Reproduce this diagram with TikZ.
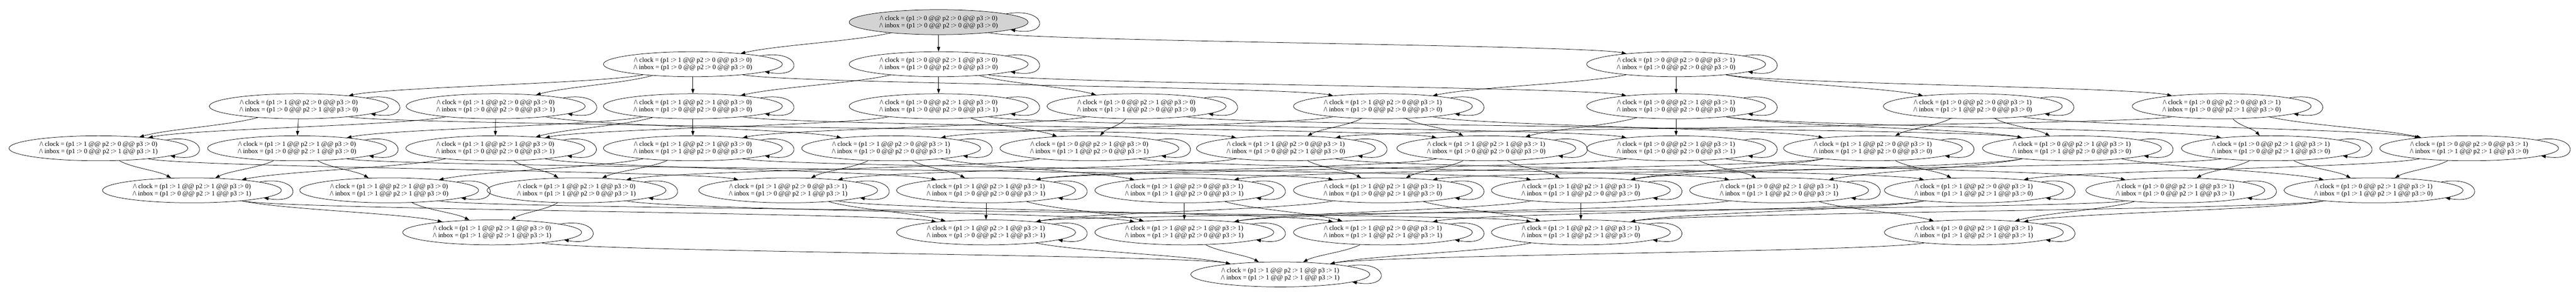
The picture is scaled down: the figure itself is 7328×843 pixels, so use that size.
\documentclass[tikz,border=0pt]{standalone}
\usepackage{fontspec}
\setmainfont{Liberation Serif}
\usetikzlibrary{arrows.meta,calc,shapes.geometric}
\definecolor{gvgray}{HTML}{D3D3D3}
\tikzset{
  st/.style={ellipse,draw=black,line width=1.1pt,minimum width=509pt,minimum height=71pt,inner sep=0pt,
    align=center,font=\fontsize{18.7pt}{20.5pt}\selectfont},
  init/.style={fill=gvgray},
  arr/.style={draw=black,line width=1.1pt,-{Triangle[length=13pt,width=9pt]}}
}
% state node: x, y, clock bits, inbox bits
\newcommand\St[9][]{\node[st,#1] (c#4#5#6m#7#8#9) at (#2,#3)
  {/\textbackslash{} clock = (p1 :> #4 @@ p2 :> #5 @@ p3 :> #6)\\/\textbackslash{} inbox = (p1 :> #7 @@ p2 :> #8 @@ p3 :> #9)};}
\newcommand\E[2]{\draw[arr] let \p1=($(#2)-(#1)$), \n1={max(-260,min(260,0.35*\x1))} in
  (#1) .. controls +(\n1,-55) and +(-\n1,55) .. (#2);}
\newcommand\Lp[1]{\draw[arr] (#1.7) .. controls +(116,20) and +(116,-20) .. (#1.-6);}
\begin{document}
\begin{tikzpicture}[x=1pt,y=1pt]
\useasboundingbox (0,0) rectangle (7328,843);
% row A
\St[init]{2670}{780}000000
% row B
\St{1971}{660.5}100000
\St{2670}{660.5}010000
\St{4768}{660.5}001000
% row C
\St{850}{541}100010
\St{1410}{541}100001
\St{1971}{541}110000
\St{2670}{541}010001
\St{3233}{541}010100
\St{3934}{541}101000
\St{4768}{541}011000
\St{5612}{541}001100
\St{6320}{541}001010
% row D
\St{280}{421.5}100011
\St{845}{421.5}110010
\St{1409}{421.5}110001
\St{1971}{421.5}110100
\St{2535}{421.5}101001
\St{3099}{421.5}010101
\St{3658}{421.5}101010
\St{4228}{421.5}111000
\St{4768}{421.5}011001
\St{5328}{421.5}101100
\St{5894}{421.5}011100
\St{6460}{421.5}011010
\St{7024}{421.5}001110
% row E
\St{546}{302}110011
\St{1107}{302}110110
\St{1640}{302}110101
\St{2242}{302}101011
\St{2805}{302}111001
\St{3369}{302}101101
\St{3934}{302}111010
\St{4497}{302}111100
\St{5061}{302}011101
\St{5615}{302}101110
\St{6188}{302}011011
\St{6752}{302}011110
% row F
\St{1400}{182.5}110111
\St{2805}{182.5}111011
\St{3369}{182.5}111101
\St{3934}{182.5}101111
\St{4497}{182.5}111110
\St{5615}{182.5}011111
% row G
\St{3642}{63}111111
% self loops
\foreach \n in {c000m000,c100m000,c010m000,c001m000,
  c100m010,c100m001,c110m000,c010m001,c010m100,c101m000,c011m000,c001m100,c001m010,
  c100m011,c110m010,c110m001,c110m100,c101m001,c010m101,c101m010,c111m000,c011m001,c101m100,c011m100,c011m010,c001m110,
  c110m011,c110m110,c110m101,c101m011,c111m001,c101m101,c111m010,c111m100,c011m101,c101m110,c011m011,c011m110,
  c110m111,c111m011,c111m101,c101m111,c111m110,c011m111,c111m111}{\Lp{\n}}
% transitions
\foreach \a/\b in {c000m000/c100m000,c000m000/c010m000,c000m000/c001m000,
  c100m000/c110m000,c100m000/c101m000,c100m000/c100m010,c100m000/c100m001,
  c010m000/c110m000,c010m000/c011m000,c010m000/c010m100,c010m000/c010m001,
  c001m000/c101m000,c001m000/c011m000,c001m000/c001m100,c001m000/c001m010,
  c100m010/c110m010,c100m010/c101m010,c100m010/c100m011,
  c100m001/c110m001,c100m001/c101m001,c100m001/c100m011,
  c110m000/c111m000,c110m000/c110m100,c110m000/c110m010,c110m000/c110m001,
  c010m001/c110m001,c010m001/c011m001,c010m001/c010m101,
  c010m100/c110m100,c010m100/c011m100,c010m100/c010m101,
  c101m000/c111m000,c101m000/c101m100,c101m000/c101m010,c101m000/c101m001,
  c011m000/c111m000,c011m000/c011m100,c011m000/c011m010,c011m000/c011m001,
  c001m100/c101m100,c001m100/c011m100,c001m100/c001m110,
  c001m010/c101m010,c001m010/c011m010,c001m010/c001m110,
  c100m011/c110m011,c100m011/c101m011,
  c110m010/c111m010,c110m010/c110m110,c110m010/c110m011,
  c110m001/c111m001,c110m001/c110m101,c110m001/c110m011,
  c110m100/c111m100,c110m100/c110m110,c110m100/c110m101,
  c101m001/c111m001,c101m001/c101m101,c101m001/c101m011,
  c010m101/c110m101,c010m101/c011m101,
  c101m010/c111m010,c101m010/c101m110,c101m010/c101m011,
  c111m000/c111m100,c111m000/c111m010,c111m000/c111m001,
  c011m001/c111m001,c011m001/c011m101,c011m001/c011m011,
  c101m100/c111m100,c101m100/c101m110,c101m100/c101m101,
  c011m100/c111m100,c011m100/c011m110,c011m100/c011m101,
  c011m010/c111m010,c011m010/c011m110,c011m010/c011m011,
  c001m110/c101m110,c001m110/c011m110,
  c110m011/c111m011,c110m011/c110m111,
  c110m110/c111m110,c110m110/c110m111,
  c110m101/c111m101,c110m101/c110m111,
  c101m011/c111m011,c101m011/c101m111,
  c111m001/c111m101,c111m001/c111m011,
  c101m101/c111m101,c101m101/c101m111,
  c111m010/c111m110,c111m010/c111m011,
  c111m100/c111m110,c111m100/c111m101,
  c011m101/c111m101,c011m101/c011m111,
  c101m110/c111m110,c101m110/c101m111,
  c011m011/c111m011,c011m011/c011m111,
  c011m110/c111m110,c011m110/c011m111,
  c110m111/c111m111,c111m011/c111m111,c111m101/c111m111,
  c101m111/c111m111,c111m110/c111m111,c011m111/c111m111}{\E{\a}{\b}}
\end{tikzpicture}
\end{document}
